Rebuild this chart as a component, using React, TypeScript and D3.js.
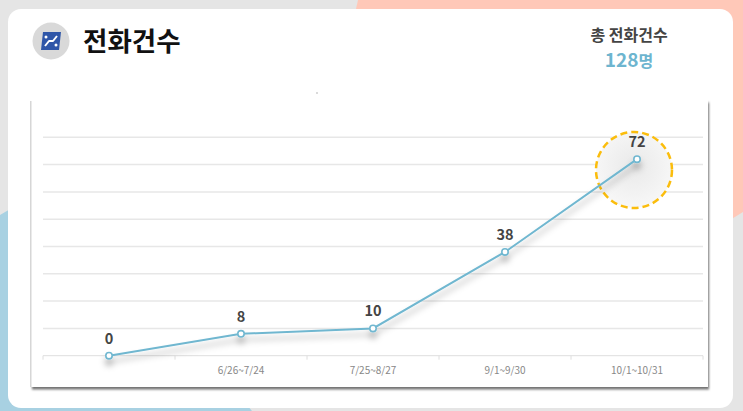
import React from 'react';
import * as d3 from 'd3';

const periods = ['', '6/26~7/24', '7/25~8/27', '9/1~9/30', '10/1~10/31'];
const calls = [0, 8, 10, 38, 72];
const gridTicks = [0, 10, 20, 30, 40, 50, 60, 70, 80];
const totalLabel = '총 전화건수';
const totalValue = '128';

const W = 743;
const H = 411;
const KR = "'Noto Sans CJK KR', 'Noto Sans', sans-serif";

const App = () => {
  const x = d3.scaleBand().domain(periods.map((p, i) => String(i))).range([43, 703]);
  const y = d3.scaleLinear().domain([0, 80]).range([355.7, 137.3]);
  const cx = (i) => x(String(i)) + x.bandwidth() / 2;

  const line = d3.line<number>()
    .x((d, i) => cx(i))
    .y(d => y(d));

  return (
    <svg width={W} height={H} style={{ position: 'fixed', left: 0, top: 0, display: 'block' }}>
      <defs>
        <filter id="panelShadow" x="-5%" y="-5%" width="110%" height="115%">
          <feDropShadow dx="1" dy="2.5" stdDeviation="1.2" floodColor="#000" floodOpacity="0.55" />
        </filter>
        <filter id="lineShadow" x="-10%" y="-20%" width="120%" height="160%">
          <feDropShadow dx="0" dy="6" stdDeviation="3" floodColor="#000" floodOpacity="0.3" />
        </filter>
        <radialGradient id="hl" cx="50%" cy="45%" r="50%">
          <stop offset="0%" stopColor="#e9e9e9" />
          <stop offset="100%" stopColor="#f6f6f6" />
        </radialGradient>
      </defs>

      {/* background */}
      <rect x={0} y={0} width={W} height={H} fill="#e5e5e5" />
      <polygon points="358,0 743,0 743,212 600,300 340,80" fill="#ffc8b8" />
      <polygon points="0,215 60,180 252,411 0,411" fill="#a8d1e2" />

      {/* card */}
      <rect x={8} y={9} width={725} height={399} rx={13} fill="#fff" />

      {/* header icon */}
      <circle cx={51} cy={41} r={18.5} fill="#d9d9d9" />
      <polygon points="43,32 61,32 59,50 41,50" fill="#2f56a8" />
      <path d="M45,46 L49,41 L53,41 L57,36" stroke="#fff" strokeWidth={2} strokeLinejoin="round" fill="none" />
      <circle cx={46} cy={37} r={1.5} fill="#fff" />
      <circle cx={56} cy={45} r={1.5} fill="#fff" />

      <text x={83} y={51} fontFamily={KR} fontWeight={700} fontSize={26.5} fill="#111">전화건수</text>

      <text x={629} y={41} textAnchor="middle" fontFamily={KR} fontWeight={700} fontSize={16} fill="#444">{totalLabel}</text>
      <text x={629} y={67} textAnchor="middle" fontFamily={KR} fontWeight={700} fontSize={19} fill="#6db5cf">
        {totalValue}<tspan fontSize={16}>명</tspan>
      </text>

      {/* chart panel */}
      <rect x={31} y={100} width={677} height={287} fill="#fff" filter="url(#panelShadow)" />
      <rect x={30} y={101} width={1.5} height={286} fill="#d6d6d6" />
      <circle cx={317} cy={93} r={0.7} fill="#999" />

      {/* grid */}
      {gridTicks.filter(t => t > 0).map(t => (
        <line key={t} x1={43} x2={703} y1={y(t)} y2={y(t)} stroke="#e7e7e7" strokeWidth={1.5} />
      ))}
      <line x1={43} x2={703} y1={y(0)} y2={y(0)} stroke="#dedede" strokeWidth={1} />
      {periods.map((p, i) => (
        <line key={'t' + i} x1={x(String(i))} x2={x(String(i))} y1={y(0)} y2={y(0) + 4} stroke="#dedede" />
      ))}
      <line x1={703} x2={703} y1={y(0)} y2={y(0) + 4} stroke="#dedede" />
      {periods.map((p, i) => (
        <text key={'l' + i} x={cx(i)} y={374} textAnchor="middle" fontFamily={KR} fontSize={10} fill="#888">{p}</text>
      ))}

      {/* highlight */}
      <circle cx={634} cy={170} r={38} fill="url(#hl)" stroke="#fbbd0c" strokeWidth={2.5} strokeDasharray="7 4" />

      {/* line */}
      <g filter="url(#lineShadow)">
        <path d={line(calls)} fill="none" stroke="#70b7d0" strokeWidth={2} />
        {calls.map((v, i) => (
          <circle key={i} cx={cx(i)} cy={y(v)} r={3.2} fill="#fff" stroke="#70b7d0" strokeWidth={1.6} />
        ))}
      </g>
      {calls.map((v, i) => (
        <text key={'v' + i} x={cx(i)} y={y(v) - 12} textAnchor="middle" fontFamily={KR} fontWeight={700} fontSize={14.5} fill="#444">{v}</text>
      ))}
    </svg>
  );
};

export default App;
